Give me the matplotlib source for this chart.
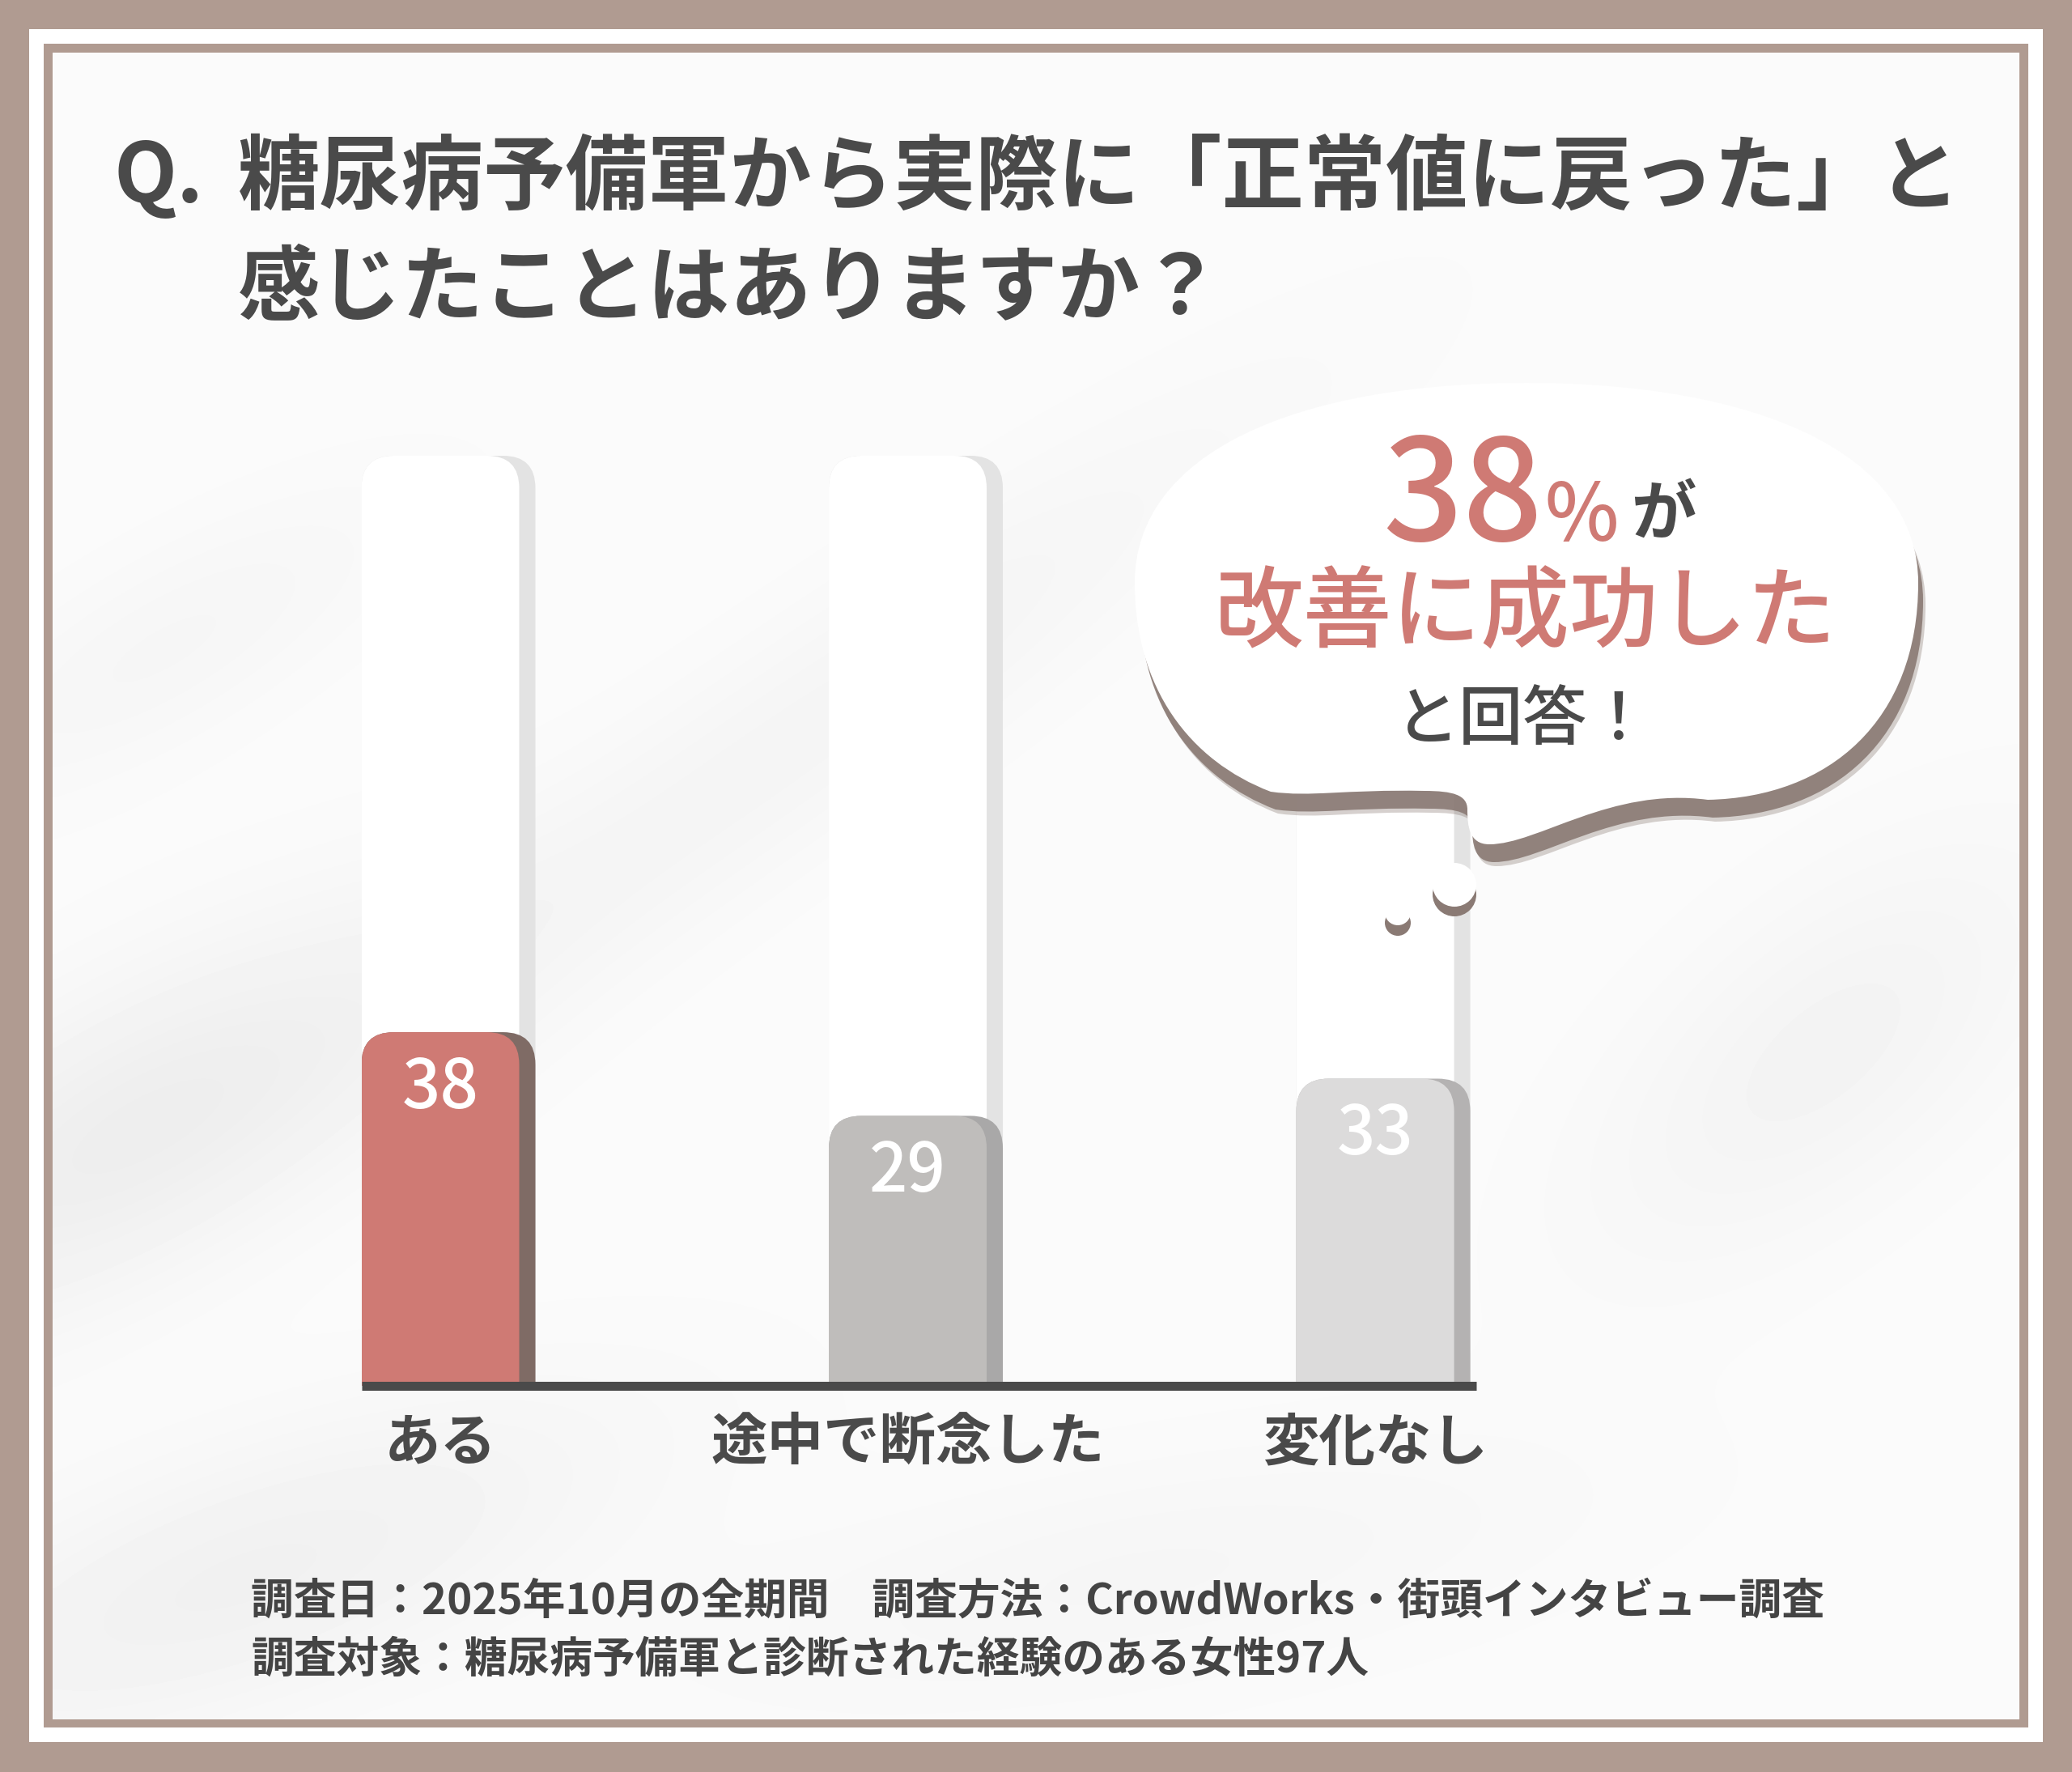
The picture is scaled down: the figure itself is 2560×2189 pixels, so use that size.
import numpy as np
import matplotlib
matplotlib.use("Agg")
import matplotlib.pyplot as plt
from matplotlib.patches import FancyBboxPatch, Rectangle, Circle, PathPatch
from matplotlib.path import Path

plt.rcParams['font.family'] = ['Noto Sans CJK JP', 'DejaVu Sans']

# --- データ ---
categories = ['ある', '途中で断念した', '変化なし']
values = [38, 29, 33]
scale_max = 100

title_q = 'Q.'
title_lines = ['糖尿病予備軍から実際に「正常値に戻った」と', '感じたことはありますか？']
bubble_pct = '38'
bubble_lines = ['改善に成功した', 'と回答！']
footer_lines = ['調査日：2025年10月の全期間　調査方法：CrowdWorks・街頭インタビュー調査',
                '調査対象：糖尿病予備軍と診断された経験のある女性97人']

# --- スタイル ---
W, H, DPI = 2560, 2189, 100
BORDER = '#B09B91'
DARK = '#4A4A4A'
ACCENT = '#CF7A74'
face_colors = ['#CF7A74', '#BFBDBB', '#DCDBDB']
side_colors = ['#7F6B65', '#A9A8A8', '#B4B2B2']
SHADOW = '#8A7A74'

fig = plt.figure(figsize=(W / DPI, H / DPI), dpi=DPI)
fig.patch.set_facecolor(BORDER)

# 背景と枠
bg = fig.add_axes([0, 0, 1, 1], zorder=0)
bg.add_patch(Rectangle((36, 36), 2524 - 36, 2152 - 36, fc='white', ec='none', zorder=1))
bg.add_patch(Rectangle((54, 54), 2506 - 54, 2134 - 54, fc=BORDER, ec='none', zorder=1))

yy, xx = np.mgrid[65:2124:6, 65:2495:6].astype(float)
tex = np.full(xx.shape, 0.984)
blobs = [(150, 1400, 320, 120, -30, 0.05), (300, 1950, 350, 110, -20, 0.04),
         (1000, 900, 500, 90, -35, 0.025), (2250, 1300, 250, 120, -40, 0.03),
         (1400, 1950, 400, 100, -10, 0.02), (200, 800, 250, 80, -30, 0.02)]
for cx, cy, sx, sy, ang, d in blobs:
    a = np.deg2rad(ang)
    u = (xx - cx) * np.cos(a) + (yy - cy) * np.sin(a)
    v = -(xx - cx) * np.sin(a) + (yy - cy) * np.cos(a)
    tex -= d * np.exp(-(u ** 2 / (2 * sx ** 2) + v ** 2 / (2 * sy ** 2)))
bg.imshow(tex, extent=(65, 2495, 2124, 65), cmap='gray', vmin=0, vmax=1,
          interpolation='bicubic', aspect='auto', zorder=2)
bg.set_xlim(0, W)
bg.set_ylim(H, 0)
bg.axis('off')

# --- 棒グラフ ---
ax_l, ax_r, ax_t, ax_b = 447, 1824, 563, 1711.5
ax = fig.add_axes([ax_l / W, 1 - ax_b / H, (ax_r - ax_l) / W, (ax_b - ax_t) / H], zorder=1)
ax.patch.set_visible(False)
xmin, xmax = -0.1853, 2.199
ax.set_xlim(xmin, xmax)
ax.set_ylim(0, scale_max)

ppx = (ax_r - ax_l) / (xmax - xmin)
ppy = (ax_b - ax_t) / scale_max
aspect = ppx / ppy
total_w = 215 / ppx
face_w = 195 / ppx
rad = 40 / ppx

x = np.arange(len(categories))
lefts = x - total_w / 2

def rbar(left, width, top, color, z):
    p = FancyBboxPatch((left, -10), width, top + 10,
                       boxstyle=f'round,pad=0,rounding_size={rad}',
                       mutation_aspect=aspect, fc=color, ec='none', zorder=z)
    ax.add_patch(p)

for i, v in enumerate(values):
    # 100%の背景トラック
    rbar(lefts[i], total_w, scale_max, '#E3E3E3', 1)
    rbar(lefts[i], face_w, scale_max, '#FFFFFF', 1.1)
    # 値
    rbar(lefts[i], total_w, v, side_colors[i], 2)
    rbar(lefts[i], face_w, v, face_colors[i], 2.1)
    ax.annotate(str(v), (lefts[i] + face_w / 2, v), xytext=(0, -70),
                textcoords='offset pixels', ha='center', va='center',
                color='white', fontsize=60, fontweight='medium', zorder=3)

for s in ['top', 'left', 'right']:
    ax.spines[s].set_visible(False)
ax.spines['bottom'].set_linewidth(8)
ax.spines['bottom'].set_color(DARK)
ax.spines['bottom'].set_capstyle('butt')
ax.spines['bottom'].set_zorder(5)
ax.set_yticks([])
ax.set_xticks(lefts + face_w / 2)
ax.set_xticklabels(categories, fontsize=50, fontweight='bold', color=DARK)
ax.tick_params(axis='x', length=0, pad=26)

# --- 文字・吹き出し ---
ov = fig.add_axes([0, 0, 1, 1], zorder=3)
ov.set_xlim(0, W)
ov.set_ylim(H, 0)
ov.axis('off')

ov.text(140, 221, title_q, ha='left', va='center', fontsize=73, fontweight='bold', color=DARK)
ov.text(294, 221, title_lines[0], ha='left', va='center', fontsize=73, fontweight='bold', color=DARK)
ov.text(294, 359, title_lines[1], ha='left', va='center', fontsize=73, fontweight='bold', color=DARK)

verts = [(1402, 720),
         (1402, 560), (1600, 473), (1886, 473),
         (2172, 473), (2370, 560), (2370, 720),
         (2370, 890), (2260, 985), (2110, 988),
         (1990, 972), (1900, 1043), (1840, 1043),
         (1815, 1043), (1813, 1020), (1813, 1000),
         (1813, 982), (1795, 977), (1760, 977),
         (1660, 975), (1620, 985), (1570, 978),
         (1470, 940), (1402, 850), (1402, 720),
         (1402, 720)]
codes = [Path.MOVETO] + [Path.CURVE4] * 24 + [Path.CLOSEPOLY]
bubble = np.array(verts, dtype=float)
for dx, dy, al in [(9, 27, 0.35), (6, 22, 0.9)]:
    ov.add_patch(PathPatch(Path(bubble + [dx, dy], codes), fc=SHADOW, ec='none', alpha=al))
ov.add_patch(PathPatch(Path(bubble, codes), fc='white', ec='none'))

for cx, cy, r, off in [(1797, 1093, 27, 12), (1727, 1127, 16, 13)]:
    ov.add_patch(Circle((cx, cy + off), r, fc=SHADOW, ec='none'))
    ov.add_patch(Circle((cx, cy), r, fc='white', ec='none'))

ov.text(1906, 668, bubble_pct, ha='right', va='baseline', fontsize=125,
        fontweight='medium', color=ACCENT)
ov.text(1908, 668, '%', ha='left', va='baseline', fontsize=70,
        fontweight='medium', color=ACCENT)
ov.text(2015, 636, 'が', ha='left', va='center', fontsize=58,
        fontweight='bold', color=DARK)
ov.text(1885, 761, bubble_lines[0], ha='center', va='center', fontsize=79,
        fontweight='medium', color=ACCENT)
ov.text(1882, 890, bubble_lines[1], ha='center', va='center', fontsize=57,
        fontweight='medium', color=DARK)

ov.text(310, 1978, footer_lines[0], ha='left', va='center', fontsize=38,
        fontweight='bold', color='#444444')
ov.text(310, 2050, footer_lines[1], ha='left', va='center', fontsize=38,
        fontweight='bold', color='#444444')

fig.savefig('out.png', dpi=DPI, facecolor=fig.get_facecolor())
